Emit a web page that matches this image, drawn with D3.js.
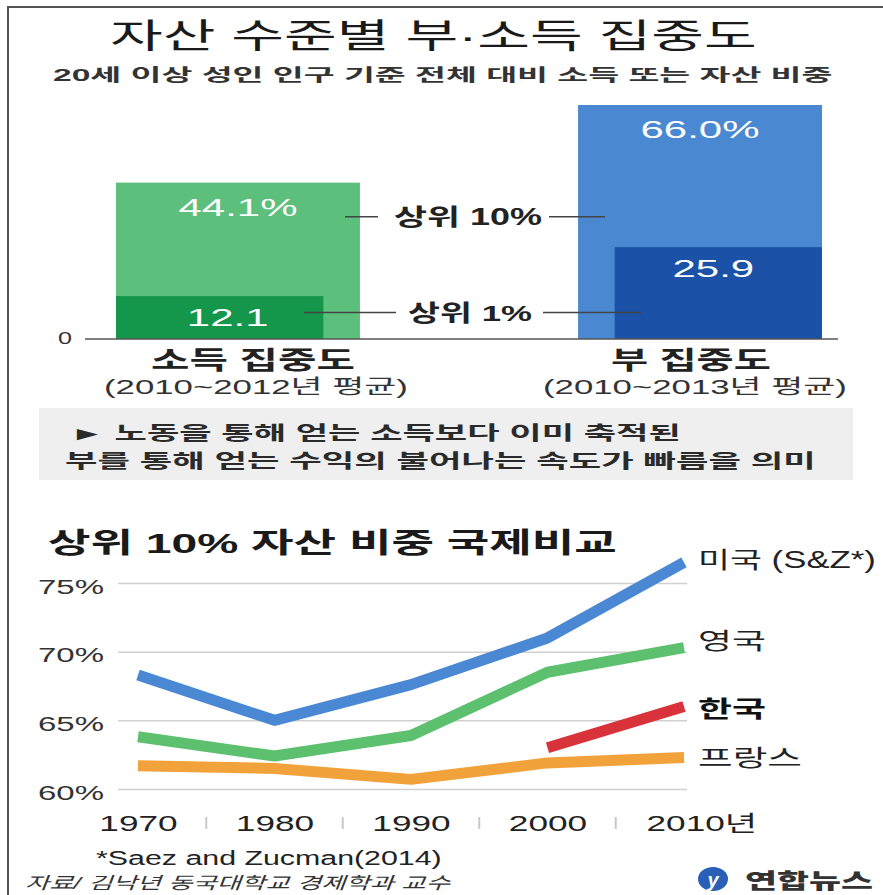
<!DOCTYPE html>
<html>
<head>
<meta charset="utf-8">
<script src="https://cdn.jsdelivr.net/npm/d3@7"></script>
<style>
  body { margin: 0; background: #fff; }
  svg { display: block; font-family: "Liberation Sans", "Noto Sans CJK KR", sans-serif; }
</style>
</head>
<body>
<svg id="chart" width="883" height="895"></svg>
<script>
// bar part: share of total income / wealth
const barGroups = ["소득 집중도", "부 집중도"];
const barPeriods = ["(2010~2012년 평균)", "(2010~2013년 평균)"];
const top10 = [44.1, 66.0];
const top1 = [12.1, 25.9];

// line part: top 10% wealth share by country
const years = [1970, 1980, 1990, 2000, 2010];
const countries = ["미국 (S&Z*)", "영국", "한국", "프랑스"];
const usShare = [68.3, 65.0, 67.6, 71.0, 76.5];
const ukShare = [63.8, 62.4, 63.9, 68.5, 70.3];
const krShare = [null, null, null, 63.0, 66.0];
const frShare = [61.7, 61.5, 60.7, 61.9, 62.3];
const yTicks = [60, 65, 70, 75];

const svg = d3.select("#chart");

// the picture is stretched sideways, so text gets a horizontal scale
function fitText(parent, str, x0, x1, cy, size, opts) {
  opts = opts || {};
  const t = parent.append("text")
    .attr("font-size", size)
    .attr("font-weight", opts.weight || 400)
    .attr("font-style", opts.italic ? "italic" : null)
    .attr("fill", opts.fill || "#222")
    .text(str);
  const len = t.node().getComputedTextLength();
  t.attr("transform", "translate(" + x0 + "," + (cy + size * 0.36) + ") scale(" + ((x1 - x0) / len) + ",1)");
  return t;
}
function widen(sel, sx) {
  sel.each(function() {
    const el = d3.select(this);
    const x = +el.attr("x") || 0;
    el.attr("x", x / sx).attr("transform", "scale(" + sx + ",1)");
  });
}

// frame
svg.append("path")
  .attr("d", "M8,895 V7 H883")
  .attr("fill", "none")
  .attr("stroke", "#555")
  .attr("stroke-width", 2);

// titles
fitText(svg, "자산 수준별 부·소득 집중도", 110, 757, 36, 34, {weight: 400, fill: "#1a1a1a"});
fitText(svg, "20세 이상 성인 인구 기준 전체 대비 소득 또는 자산 비중", 53, 833, 75, 17, {weight: 700, fill: "#333"});

// ---------- bars ----------
const xBar = d3.scaleBand().domain(barGroups).range([116, 822]).paddingInner(0.472);
const yBar = d3.scaleLinear().domain([0, 66]).range([339, 105]);
const lightCol = ["#5cc07c", "#4a89d2"];
const darkCol = ["#14964b", "#1b52a8"];
const bw = xBar.bandwidth();
const darkW = bw * 0.85;
const darkX = (g, i) => i === 0 ? xBar(g) : xBar(g) + bw - darkW;

const bars = svg.append("g");
bars.selectAll("rect.top10").data(barGroups).enter().append("rect")
  .attr("class", "top10")
  .attr("x", d => xBar(d))
  .attr("width", bw)
  .attr("y", (d, i) => yBar(top10[i]))
  .attr("height", (d, i) => yBar(0) - yBar(top10[i]))
  .attr("fill", (d, i) => lightCol[i]);
bars.selectAll("rect.top1").data(barGroups).enter().append("rect")
  .attr("class", "top1")
  .attr("x", (d, i) => darkX(d, i))
  .attr("width", darkW)
  .attr("y", (d, i) => yBar(top1[i]))
  .attr("height", (d, i) => yBar(0) - yBar(top1[i]))
  .attr("fill", (d, i) => darkCol[i]);

bars.selectAll("text.v10").data(barGroups).enter().append("text")
  .attr("class", "v10")
  .attr("x", d => xBar(d) + bw / 2)
  .attr("y", (d, i) => yBar(top10[i]) + 33)
  .attr("text-anchor", "middle")
  .attr("font-size", 24)
  .attr("fill", "#fff")
  .text((d, i) => d3.format(".1f")(top10[i]) + "%")
  .call(widen, 1.75);
bars.selectAll("text.v1").data(barGroups).enter().append("text")
  .attr("class", "v1")
  .attr("x", (d, i) => darkX(d, i) + darkW / 2 + (i === 0 ? 8 : -5))
  .attr("y", (d, i) => yBar(top1[i]) + 30)
  .attr("text-anchor", "middle")
  .attr("font-size", 24)
  .attr("fill", "#fff")
  .text((d, i) => d3.format(".1f")(top1[i]))
  .call(widen, 1.75);

// leader lines
const lead = svg.append("g").attr("stroke", "#444").attr("stroke-width", 1.5);
const y10 = yBar(top10[0]) + 34, y1 = (yBar(top1[0]) + yBar(0)) / 2 - 5;
lead.append("line").attr("x1", 345).attr("x2", 378).attr("y1", y10).attr("y2", y10);
lead.append("line").attr("x1", 549).attr("x2", 605).attr("y1", y10).attr("y2", y10);
lead.append("line").attr("x1", 304).attr("x2", 396).attr("y1", y1).attr("y2", y1);
lead.append("line").attr("x1", 543).attr("x2", 642).attr("y1", y1).attr("y2", y1);
fitText(svg, "상위 10%", 394, 542, y10, 23, {weight: 700});
fitText(svg, "상위 1%", 408, 532, y1, 23, {weight: 700});

// baseline
svg.append("line")
  .attr("x1", 85).attr("x2", 838)
  .attr("y1", yBar(0)).attr("y2", yBar(0))
  .attr("stroke", "#555").attr("stroke-width", 1.5);
fitText(svg, "0", 58, 72, yBar(0) - 1, 16, {fill: "#333"});

// category labels
const catSpan = [[151, 355], [611, 771]];
const perSpan = [[104, 408], [543, 847]];
barGroups.forEach((g, i) => {
  fitText(svg, g, catSpan[i][0], catSpan[i][1], 360, 25, {weight: 700});
  fitText(svg, barPeriods[i], perSpan[i][0], perSpan[i][1], 387, 20, {fill: "#333"});
});

// note box
svg.append("rect").attr("x", 39).attr("y", 408).attr("width", 814).attr("height", 72).attr("fill", "#efefef");
fitText(svg, "► 노동을 통해 얻는 소득보다 이미 축적된", 70, 681, 433, 19, {weight: 700, fill: "#2a2a2a"});
fitText(svg, "부를 통해 얻는 수익의 불어나는 속도가 빠름을 의미", 65, 816, 461, 19, {weight: 700, fill: "#2a2a2a"});

// ---------- line chart ----------
fitText(svg, "상위 10% 자산 비중 국제비교", 48, 617, 543, 28, {weight: 700, fill: "#1a1a1a"});

const xLine = d3.scaleLinear().domain([1970, 2010]).range([138, 684]);
const yLine = d3.scaleLinear().domain([60, 75]).range([789, 583]);

const yAxis = svg.append("g")
  .attr("transform", "translate(118,0)")
  .call(d3.axisLeft(yLine).tickValues(yTicks).tickFormat(d => d + "%").tickSize(-(687 - 118)).tickPadding(14));
yAxis.select(".domain").remove();
yAxis.attr("font-family", null);
yAxis.selectAll("line").attr("stroke", "#d0d0d0").attr("stroke-width", 1.5);
yAxis.selectAll("text").attr("font-size", 20).attr("fill", "#333").attr("dy", "0.5em").call(widen, 1.65);

const xAxis = svg.append("g")
  .attr("transform", "translate(0,789)")
  .call(d3.axisBottom(xLine).tickValues(years).tickFormat(d => d === 2010 ? "2010년" : String(d)).tickSize(0).tickPadding(26));
xAxis.select(".domain").remove();
xAxis.attr("font-family", null);
xAxis.selectAll("text").attr("font-size", 22).attr("fill", "#222");
xAxis.selectAll("text").filter(d => d === 2010).attr("text-anchor", "start").attr("x", -38);
xAxis.selectAll("text").call(widen, 1.6);

// small separators between years
svg.append("g").selectAll("line").data(years.slice(1).map((y, i) => (y + years[i]) / 2)).enter().append("line")
  .attr("x1", d => xLine(d)).attr("x2", d => xLine(d))
  .attr("y1", 817).attr("y2", 829)
  .attr("stroke", "#c8c8c8").attr("stroke-width", 2);

const series = [
  {name: countries[0], vals: usShare, color: "#4a88d3", dy: -3, w: 178, bold: false},
  {name: countries[1], vals: ukShare, color: "#5cc06e", dy: -7, w: 68, bold: false},
  {name: countries[2], vals: krShare, color: "#d8333a", dy: 2, w: 68, bold: true},
  {name: countries[3], vals: frShare, color: "#f2a23a", dy: 0, w: 104, bold: false}
];
const line = d3.line()
  .defined(d => d.v != null)
  .x(d => xLine(d.year))
  .y(d => yLine(d.v));

svg.append("g").selectAll("path").data(series.slice().reverse()).enter().append("path")
  .attr("d", s => line(years.map((y, i) => ({year: y, v: s.vals[i]}))))
  .attr("fill", "none")
  .attr("stroke", s => s.color)
  .attr("stroke-width", 11)
  .attr("stroke-linejoin", "round");

series.forEach(s => {
  const last = s.vals[s.vals.length - 1];
  fitText(svg, s.name, xLine(2010) + 14, xLine(2010) + 14 + s.w, yLine(last) + s.dy, 23,
    {weight: s.bold ? 700 : 400, fill: s.bold ? "#111" : "#222"});
});

// notes
fitText(svg, "*Saez and Zucman(2014)", 96, 442, 858, 20, {fill: "#222"});
fitText(svg, "자료/ 김낙년 동국대학교 경제학과 교수", 25, 450, 883, 17, {italic: true, fill: "#333"});

// logo
svg.append("ellipse").attr("cx", 713).attr("cy", 879).attr("rx", 15).attr("ry", 12).attr("fill", "#2a5fb8");
svg.append("text").attr("x", 713).attr("y", 887).attr("text-anchor", "middle")
  .attr("font-size", 20).attr("font-style", "italic").attr("font-weight", 700).attr("fill", "#fff").text("y");
fitText(svg, "연합뉴스", 745, 873, 880, 21, {weight: 900, fill: "#333"});
</script>
</body>
</html>
